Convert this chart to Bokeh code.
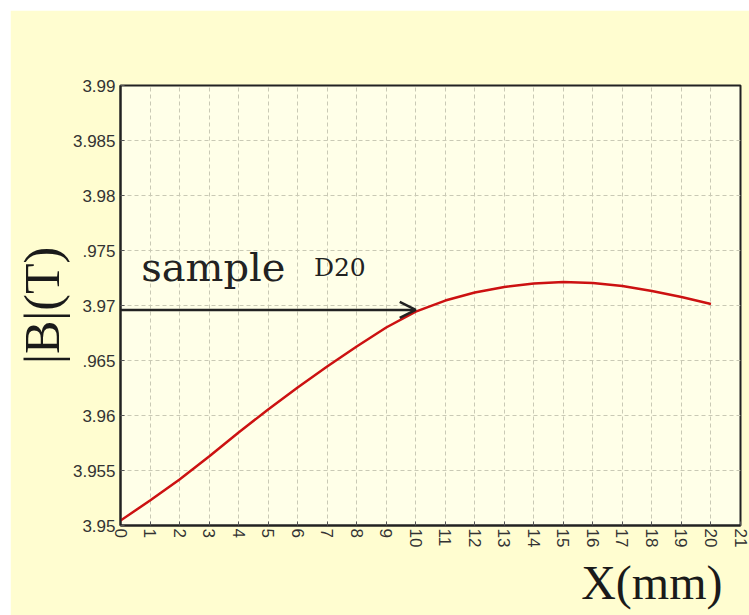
from bokeh.plotting import figure
from bokeh.models import (Label, Arrow, OpenHead, FixedTicker, CustomJSTickFormatter,
                          Range1d, Spacer, Title)
from bokeh.layouts import column, row
from bokeh.embed import file_html
from bokeh.resources import INLINE

# ---- data ----
x_mm = [0, 1, 2, 3, 4, 5, 6, 7, 8, 9, 10, 11, 12, 13, 14, 15, 16, 17, 18, 19, 20]
b_t = [3.95045, 3.95227, 3.95418, 3.95627, 3.95845, 3.96055, 3.96255, 3.96445,
       3.96627, 3.96800, 3.96945, 3.97045, 3.97118, 3.97168, 3.97200, 3.97214,
       3.97205, 3.97177, 3.97132, 3.97077, 3.97014]

x_ticks = list(range(0, 22))
y_ticks = [3.95, 3.955, 3.96, 3.965, 3.97, 3.975, 3.98, 3.985, 3.99]
y_tick_labels = ["3.95", "3.955", "3.96", ".965", "3.97", ".975", "3.98", "3.985", "3.99"]

arrow_from_x = 0.0
arrow_to_x = 10.0
arrow_y = 3.9696
note_main = "sample"
note_sub = "D20"
x_title = "X(mm)"
y_title = "|B|(T)"

OUTER = "#FFFDD0"
INNER = "#FFFFE8"

p = figure(width=739, height=605, output_backend="svg", toolbar_location=None,
           x_range=Range1d(0, 21), y_range=Range1d(3.95, 3.99),
           min_border_left=109, min_border_right=9, min_border_top=75, min_border_bottom=90)
p.border_fill_color = OUTER
p.background_fill_color = INNER
p.outline_line_color = "#222222"
p.outline_line_width = 2

# axes
p.xaxis.ticker = FixedTicker(ticks=x_ticks)
p.yaxis.ticker = FixedTicker(ticks=y_ticks)
p.yaxis.formatter = CustomJSTickFormatter(args=dict(tv=y_ticks, lab=y_tick_labels), code="""
    let best = 0, bd = 1e9;
    for (let i = 0; i < tv.length; i++) {
        const d = Math.abs(tv[i] - tick);
        if (d < bd) { bd = d; best = i; }
    }
    return lab[best];
""")
for ax in (p.xaxis[0], p.yaxis[0]):
    ax.axis_line_color = "#222222"
    ax.axis_line_width = 2
    ax.major_tick_in = 4
    ax.major_tick_out = 0
    ax.major_tick_line_color = "#555555"
    ax.minor_tick_line_color = None
    ax.major_label_text_font = "Liberation Sans"
    ax.major_label_text_font_size = "17px"
    ax.major_label_text_color = "#333333"
p.yaxis.major_label_standoff = 5
p.xaxis.major_label_standoff = 3
p.xaxis.major_label_orientation = "vertical"

# y title as axis label
p.yaxis.axis_label = y_title
p.yaxis.axis_label_text_font = "Liberation Serif"
p.yaxis.axis_label_text_font_size = "50px"
p.yaxis.axis_label_text_font_style = "normal"
p.yaxis.axis_label_text_color = "#1a1a1a"
p.yaxis.axis_label_standoff = 0

# x title, right aligned below
xt = Title(text=x_title, align="right", offset=18, text_font="Liberation Serif",
           text_font_size="48px", text_font_style="normal", text_color="#1a1a1a")
if "standoff" in Title.properties():
    xt.standoff = 6
p.add_layout(xt, "below")

# grid
for g in (p.xgrid[0], p.ygrid[0]):
    g.grid_line_color = "#c9c9b5"
    g.grid_line_dash = "4 3"
    g.grid_line_width = 1

# curve
p.line(x_mm, b_t, line_color="#cc1111", line_width=2.5)

# arrow annotation
p.add_layout(Arrow(end=OpenHead(size=16, line_color="#222222", line_width=2.5),
                   x_start=arrow_from_x, y_start=arrow_y, x_end=arrow_to_x, y_end=arrow_y,
                   line_color="#222222", line_width=2.5))

p.add_layout(Label(x=0.7, y=3.9735, text=note_main, text_font="DejaVu Serif",
                   text_font_size="40px", text_color="#222222", text_baseline="alphabetic"))
p.add_layout(Label(x=6.55, y=3.9735, text=note_sub, text_font="DejaVu Serif",
                   text_font_size="25px", text_color="#222222", text_baseline="alphabetic"))

layout = column(Spacer(height=10), row(Spacer(width=10), p))
layout.spacing = 0
open("out.html", "w").write(file_html(layout, INLINE))
